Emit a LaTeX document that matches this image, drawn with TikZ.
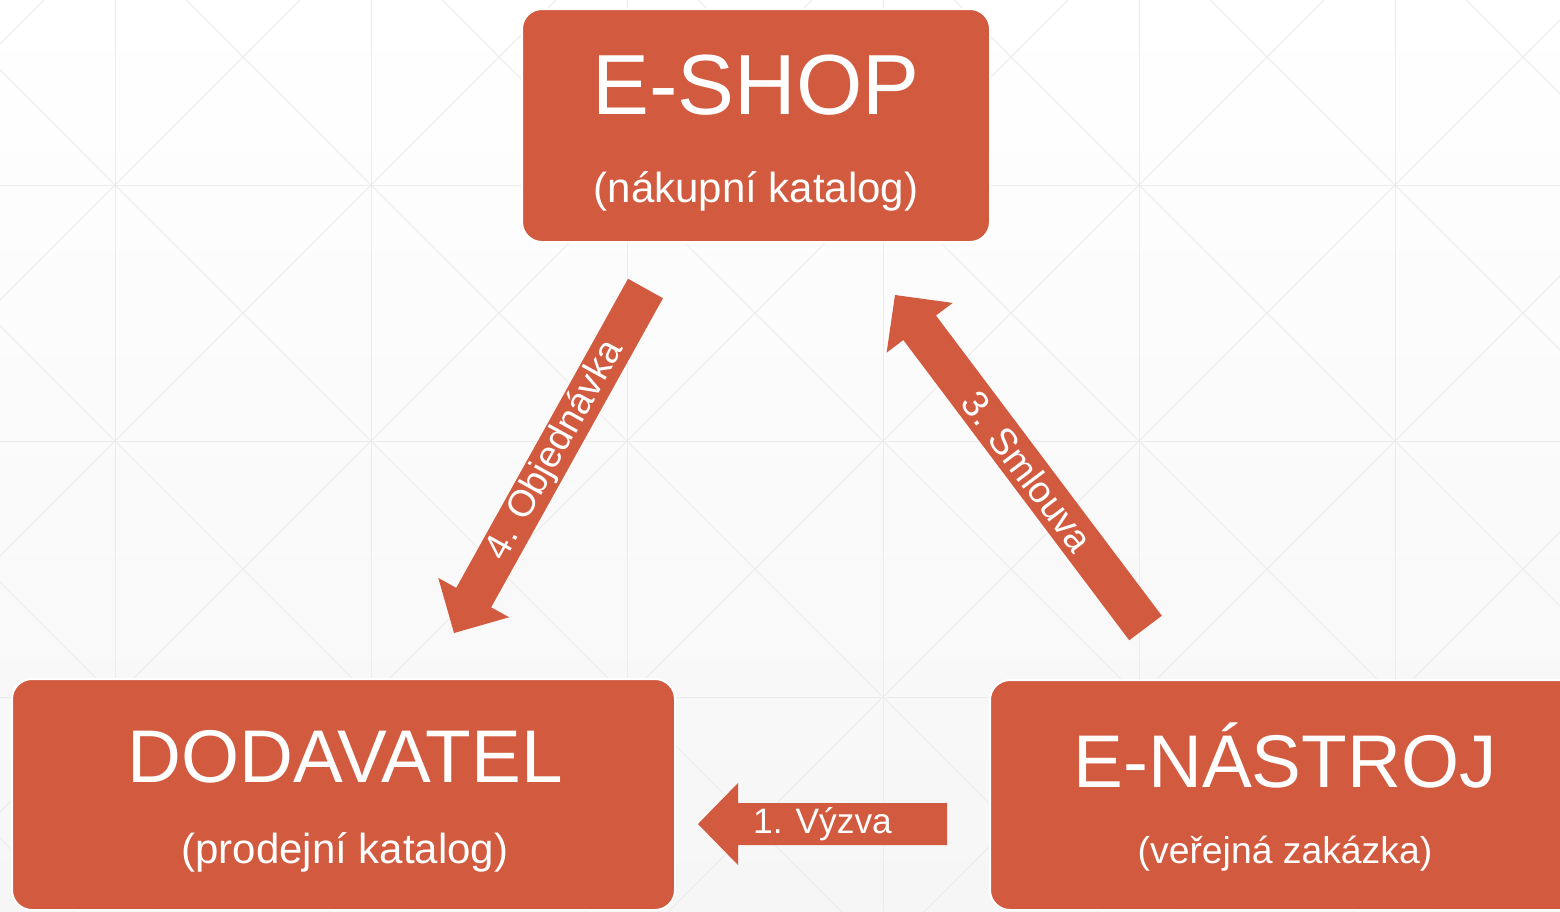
\documentclass[tikz,border=0pt]{standalone}
\usepackage{fontspec}
\setmainfont{Liberation Sans}
\usetikzlibrary{calc}
\definecolor{accent}{RGB}{209,90,63}
\definecolor{gridc}{RGB}{236,236,236}
\definecolor{bgbot}{RGB}{246,246,246}
\tikzset{
  box/.style={draw=white, line width=1.5pt, fill=accent, rounded corners=15pt, inner sep=0pt, outer sep=0pt},
  title/.style={text=white, anchor=base, inner sep=0pt},
  bigfont/.style={font=\fontsize{56pt}{56pt}\selectfont},
  subfont/.style={font=\fontsize{31.5pt}{31.5pt}\selectfont},
  arrowlabel/.style={text=white, inner sep=0pt, font=\fontsize{28pt}{28pt}\selectfont},
  gridline/.style={draw=gridc, line width=0.75pt},
  blockarrow/.style={fill=accent},
}
% #1 tail coordinate, #2 tip coordinate, #3 shaft half width, #4 head half width, #5 head length
\newcommand\blockarr[5]{%
  \coordinate (#1hb) at ($(#2)!#5!(#1)$);
  \fill[blockarrow] ($(#1)!#3!90:(#2)$) -- ($(#1hb)!#3!90:(#2)$) -- ($(#1hb)!#4!90:(#2)$)
    -- (#2) -- ($(#1hb)!#4!-90:(#2)$) -- ($(#1hb)!#3!-90:(#2)$) -- ($(#1)!#3!-90:(#2)$) -- cycle;
}
\begin{document}
\begin{tikzpicture}[x=0.75pt,y=-0.75pt]
\useasboundingbox (0,0) rectangle (1560,911);
\shade[top color=white, bottom color=bgbot] (0,0) rectangle (1560,911);
\begin{scope}
\clip (0,0) rectangle (1560,911);
% background grid
\foreach \gx in {115,371,627,883,1139,1395} \draw[gridline] (\gx,0) -- (\gx,911);
\foreach \gy in {185,441,697} \draw[gridline] (0,\gy) -- (1560,\gy);
\foreach \c in {-1094,-838,-582,-326,-70,186,442,698,954,1210,1466}
  \draw[gridline] ({\c-100},-100) -- ({\c+1100},1100);
\foreach \d in {44,300,556,812,1068,1324,1580,1836,2092,2348,2604}
  \draw[gridline] ({\d+100},-100) -- ({\d-1100},1100);
% boxes
\node[box, minimum width=351pt, minimum height=174.75pt] (eshop) at (756,125.5) {};
\node[box, minimum width=497.25pt, minimum height=173.25pt] (dodav) at (343.5,794.5) {};
\node[box, minimum width=442.5pt, minimum height=172.5pt] (enas) at (1285,795) {};
\end{scope}
% box texts
\node[title, font=\fontsize{64pt}{64pt}\selectfont] (eshopT) at (756,114) {E-SHOP};
\node[title, subfont] (eshopS) at (756,202) {(nákupní katalog)};
\node[title, bigfont] (dodavT) at (345,782) {DODAVATEL};
\node[title, subfont] (dodavS) at (345,863) {(prodejní katalog)};
\node[title, bigfont] (enasT) at (1285,787) {E-NÁSTROJ};
\node[title, font=\fontsize{28pt}{28pt}\selectfont] (enasS) at (1285,863) {(veřejná zakázka)};
% arrows
\coordinate (a1s) at (947,824);
\coordinate (a1e) at (698,824);
\blockarr{a1s}{a1e}{15.75pt}{30.75pt}{30pt}
\node[arrowlabel, font=\fontsize{26.5pt}{26.5pt}\selectfont] (a1l) at ($(a1s)!0.5!(a1e)$) {1. Výzva};
\coordinate (a4s) at (645.5,288.5);
\coordinate (a4e) at (454,633);
\blockarr{a4s}{a4e}{15pt}{30.4pt}{30.4pt}
\node[arrowlabel, rotate=61] (a4l) at ($(a4s)!0.47!(a4e)$) {4. Objednávka};
\coordinate (a3s) at (1145.5,628);
\coordinate (a3e) at (895,295);
\blockarr{a3s}{a3e}{15.3pt}{31pt}{30.75pt}
\node[arrowlabel, rotate=-53] (a3l) at ($(a3s)!0.47!(a3e)$) {3. Smlouva};
\end{tikzpicture}
\end{document}
